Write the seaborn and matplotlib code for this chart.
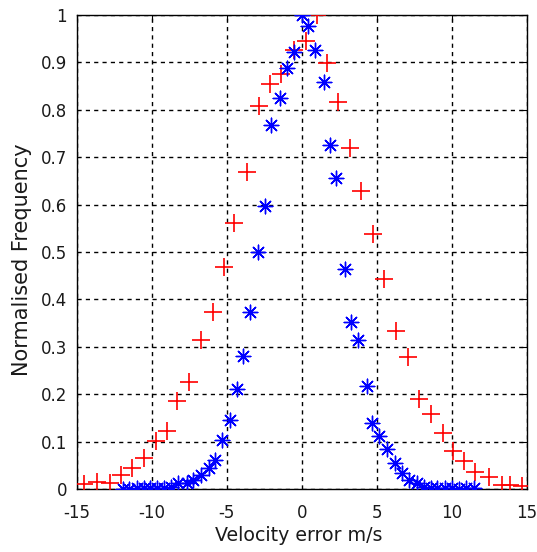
import matplotlib
matplotlib.use("Agg")
import matplotlib.pyplot as plt
import numpy as np
import pandas as pd
import seaborn as sns

# red "+" series
red_x = [-14.51, -13.62, -12.78, -12.07, -11.29, -10.51, -9.73, -9.0, -8.29, -7.51,
         -6.73, -5.95, -5.18, -4.51, -3.62, -2.85, -2.11, -1.4, -0.51, 0.27,
         1.04, 1.71, 2.44, 3.22, 3.98, 4.76, 5.49, 6.31, 7.09, 7.82,
         8.6, 9.44, 10.11, 10.82, 11.56, 12.51, 13.38, 13.89, 14.67]
red_y = [0.010, 0.015, 0.012, 0.030, 0.044, 0.065, 0.102, 0.122, 0.186, 0.226,
         0.314, 0.373, 0.469, 0.562, 0.669, 0.807, 0.854, 0.875, 0.926, 0.946,
         0.999, 0.898, 0.817, 0.719, 0.629, 0.537, 0.442, 0.334, 0.279, 0.190,
         0.158, 0.119, 0.080, 0.059, 0.037, 0.025, 0.008, 0.008, 0.007]

# blue "*" series
blue_x = [-11.95, -11.51, -11.0, -10.55, -10.11, -9.62, -9.18, -8.73, -8.24, -7.62,
          -7.24, -6.73, -6.18, -5.78, -5.33, -4.78, -4.29, -3.89, -3.44, -2.89,
          -2.44, -2.02, -1.47, -1.0, -0.51, 0.0, 0.42, 0.87, 1.45, 1.87,
          2.31, 2.87, 3.27, 3.76, 4.33, 4.71, 5.16, 5.71, 6.22, 6.71,
          7.16, 7.67, 8.16, 8.6, 9.04, 9.53, 10.04, 10.49, 10.98, 11.45]
blue_y = [0.001, 0.001, 0.002, 0.002, 0.002, 0.002, 0.002, 0.004, 0.012, 0.012,
          0.019, 0.030, 0.044, 0.061, 0.103, 0.146, 0.212, 0.281, 0.373, 0.501,
          0.597, 0.768, 0.824, 0.889, 0.921, 0.999, 0.977, 0.925, 0.859, 0.726,
          0.655, 0.464, 0.353, 0.314, 0.217, 0.140, 0.112, 0.084, 0.056, 0.034,
          0.019, 0.012, 0.005, 0.003, 0.003, 0.003, 0.002, 0.0, 0.002, 0.002]

x_ticks = [-15, -10, -5, 0, 5, 10, 15]
y_ticks = [0, 0.1, 0.2, 0.3, 0.4, 0.5, 0.6, 0.7, 0.8, 0.9, 1]
y_ticklabels = ["0", "0.1", "0.2", "0.3", "0.4", "0.5", "0.6", "0.7", "0.8", "0.9", "1"]

sns.set_style("white")
plt.rcParams["font.family"] = ["DejaVu Sans"]
plt.rcParams["axes.unicode_minus"] = False

red = pd.DataFrame({"x": red_x, "y": red_y})
blue = pd.DataFrame({"x": blue_x, "y": blue_y})

fig = plt.figure(figsize=(5.37, 5.52), dpi=100)
ax = fig.add_axes([0.143, 0.114, 0.838, 0.859])

sns.scatterplot(data=red, x="x", y="y", marker="+", color="red", s=150,
                linewidth=1.2, ax=ax, zorder=3)
sns.scatterplot(data=blue, x="x", y="y", marker=(8, 2, 0), color="blue", s=110,
                linewidth=1.0, ax=ax, zorder=4)
sns.scatterplot(data=blue, x="x", y="y", marker="o", color="blue", s=8,
                linewidth=0, ax=ax, zorder=5)

ax.set_xlim(-15, 15)
ax.set_ylim(0, 1)
ax.set_xticks(x_ticks)
ax.set_yticks(y_ticks)
ax.set_yticklabels(y_ticklabels)
ax.grid(True, color="black", linestyle=(0, (3, 3)), linewidth=1.0)
ax.set_axisbelow(True)
for side in ["top", "right", "bottom", "left"]:
    ax.spines[side].set_color("black")
    ax.spines[side].set_linewidth(1.0)
ax.tick_params(direction="in", length=4, top=True, right=True, labelsize=12,
               colors="black")
ax.tick_params(axis="x", pad=11, labelcolor="#1a1a1a")
ax.tick_params(axis="y", pad=7, labelcolor="#1a1a1a")
ax.set_xlabel("Velocity error m/s", fontsize=13.7, color="#1a1a1a")
ax.set_ylabel("Normalised Frequency", fontsize=15, color="#1a1a1a")
ax.xaxis.set_label_coords(0.492, -0.078)
ax.yaxis.set_label_coords(-0.099, 0.483)

fig.savefig("out.png", dpi=100)
